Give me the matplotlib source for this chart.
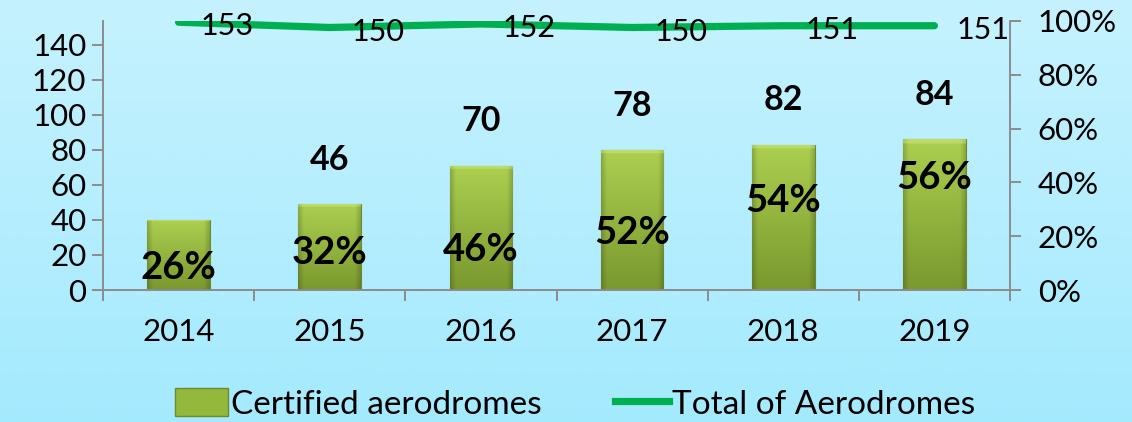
import matplotlib
matplotlib.use("Agg")
import matplotlib.pyplot as plt
import numpy as np
from matplotlib.patches import Rectangle
from matplotlib.lines import Line2D
from matplotlib import font_manager

years = ["2014", "2015", "2016", "2017", "2018", "2019"]
certified = [40, 49, 71, 80, 83, 86]          # bar heights as drawn
certified_labels = ["", "46", "70", "78", "82", "84"]
total = [153, 150, 152, 150, 151, 151]
share_labels = ["26%", "32%", "46%", "52%", "54%", "56%"]
share_label_y = [12.6, 21, 23, 32.6, 51, 64]  # where the % labels sit (left axis units)

names = {f.name for f in font_manager.fontManager.ttflist}
main_font = "Lato" if "Lato" in names else "DejaVu Sans"
plt.rcParams["font.family"] = [main_font, "DejaVu Sans"]

fig = plt.figure(figsize=(11.32, 4.22), dpi=100)

# light blue background gradient
bg = fig.add_axes([0, 0, 1, 1], zorder=-10)
grad = np.linspace(0, 1, 256)[:, None]
top_c = np.array([198, 242, 254]) / 255
bot_c = np.array([164, 234, 254]) / 255
bg_img = top_c * (1 - grad[..., None]) + bot_c * grad[..., None]
bg.imshow(np.repeat(bg_img, 2, axis=1), aspect="auto", extent=[0, 1, 0, 1])
bg.axis("off")

ax = fig.add_axes([103 / 1132, 1 - 290 / 422, 907 / 1132, 269 / 422])
ax.set_facecolor("none")
ax2 = ax.twinx()

x = np.arange(len(years))
width = 0.415
ax.set_xlim(-0.5, len(years) - 0.5)
ax.set_ylim(0, 153.7)
ax2.set_ylim(0, 1)

# bars with a simple bevel-ish gradient
bars = ax.bar(x, certified, width, facecolor="none", edgecolor="#6f8a2a", linewidth=0.8, zorder=2)
h, w = 200, 60
vy = np.linspace(0, 1, h)[:, None, None]
c_top = np.array([172, 208, 80]) / 255
c_bot = np.array([122, 152, 46]) / 255
base = c_top * (1 - vy) + c_bot * vy
hx = np.linspace(0, 1, w)
edge = np.clip(np.minimum(hx, 1 - hx) / 0.09, 0, 1)
shade = 0.82 + 0.18 * edge
img = base * shade[None, :, None]
img[:6] = img[:6] * 0.6 + 0.4 * np.array([0.85, 0.93, 0.55])
for b in bars:
    im = ax.imshow(img, aspect="auto", zorder=2,
                   extent=[b.get_x(), b.get_x() + b.get_width(), 0, b.get_height()])
    im.set_clip_path(b)

# total line
ax.plot(x, total, color="#00b050", linewidth=5.2, solid_capstyle="round", zorder=3)
for xi, v in zip(x, total):
    ax.annotate(str(v), (xi, v), xytext=(35, -3), textcoords="offset points",
                ha="center", va="center", fontsize=22, zorder=4)

for xi, v, lab in zip(x, certified, certified_labels):
    ax.annotate(lab, (xi, v), xytext=(0, 32), textcoords="offset points",
                ha="center", va="center", fontsize=24.5, fontweight="bold", zorder=4)

for xi, yy, lab in zip(x, share_label_y, share_labels):
    ax.text(xi, yy, lab, ha="center", va="center", fontsize=27.5, fontweight="bold", zorder=4)

# axes styling
axis_c = "#8c8c8c"
for a in (ax, ax2):
    for s in a.spines.values():
        s.set_color(axis_c)
        s.set_linewidth(1.4)
    a.spines["top"].set_visible(False)
ax.spines["right"].set_visible(False)
ax2.spines["left"].set_visible(False)
ax2.spines["bottom"].set_visible(False)

ax.set_yticks(range(0, 141, 20))
ax.tick_params(axis="y", length=8, width=1.4, color=axis_c, labelsize=22.5, pad=4)
ax2.set_yticks(np.arange(0, 1.01, 0.2))
ax2.set_yticklabels([f"{int(round(t * 100))}%" for t in np.arange(0, 1.01, 0.2)])
ax2.tick_params(axis="y", length=8, width=1.4, color=axis_c, labelsize=22.5, pad=12)

ax.set_xticks(x)
ax.set_xticklabels(years)
ax.tick_params(axis="x", length=0, labelsize=22.5, pad=20)
ax.set_xticks(np.arange(-0.5, len(years), 1), minor=True)
ax.tick_params(axis="x", which="minor", length=8, width=1.4, color=axis_c)

handles = [Rectangle((0, 0), 1, 1, facecolor="#94b83c", edgecolor="#6f8a2a"),
           Line2D([0], [0], color="#00b050", linewidth=5.2)]
fig.legend(handles, ["Certified aerodromes", "Total of Aerodromes"], loc="center",
           bbox_to_anchor=(575 / 1132, 1 - 404 / 422), ncol=2, frameon=False,
           fontsize=24, handlelength=1.6, handleheight=0.9, handletextpad=0.1,
           columnspacing=2.2, borderpad=0)

fig.savefig("out.png", dpi=100)
